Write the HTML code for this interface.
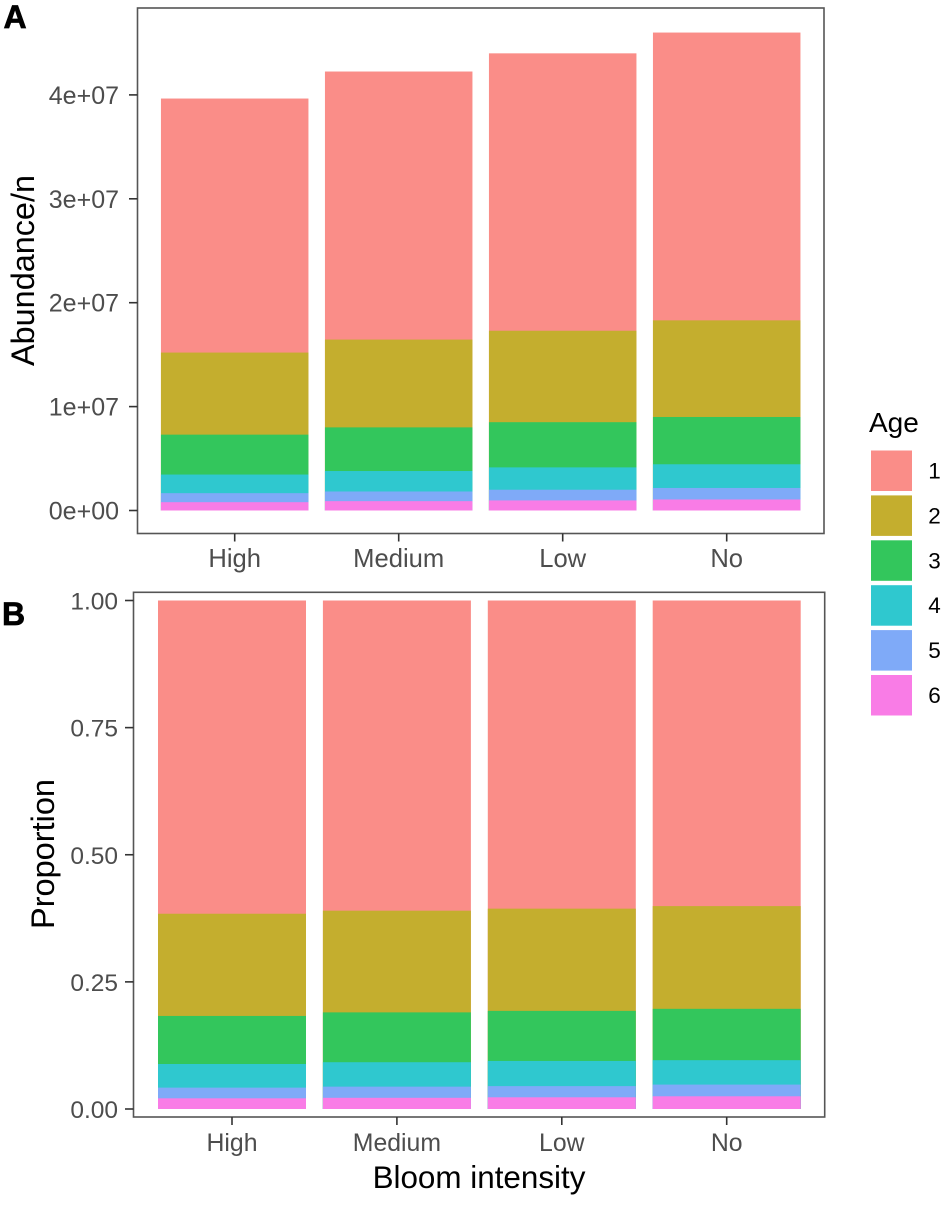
<!DOCTYPE html>
<html lang="en">
<head>
<meta charset="utf-8">
<title>Abundance and proportion by bloom intensity and age</title>
<style>
html,body{margin:0;padding:0;background:#fff;}
svg{display:block;font-family:"Liberation Sans",Arial,sans-serif;}
</style>
</head>
<body>
<svg id="chart" xmlns="http://www.w3.org/2000/svg" width="950" height="1205" viewBox="0 0 950 1205">
<rect width="950" height="1205" fill="#fff"/>
</svg>
<script>
const categories = ['High', 'Medium', 'Low', 'No'];
const ages = ['1', '2', '3', '4', '5', '6'];
const ageColors = ['#FA8D88', '#C4AE2E', '#33C65C', '#2FC8CF', '#7FAAF8', '#F97CE6'];

const abundanceAge1 = [2.445e7, 2.58e7, 2.67e7, 2.77e7];
const abundanceAge2 = [0.79e7, 0.845e7, 0.88e7, 0.93e7];
const abundanceAge3 = [0.384e7, 0.42e7, 0.435e7, 0.455e7];
const abundanceAge4 = [0.179e7, 0.197e7, 0.215e7, 0.228e7];
const abundanceAge5 = [0.087e7, 0.093e7, 0.103e7, 0.111e7];
const abundanceAge6 = [0.08e7, 0.09e7, 0.097e7, 0.106e7];

const proportionAge1 = [0.616, 0.61, 0.606, 0.601];
const proportionAge2 = [0.201, 0.2, 0.201, 0.202];
const proportionAge3 = [0.0945, 0.098, 0.0985, 0.101];
const proportionAge4 = [0.0465, 0.048, 0.0495, 0.048];
const proportionAge5 = [0.021, 0.022, 0.022, 0.023];
const proportionAge6 = [0.021, 0.022, 0.023, 0.025];

const abundanceTicks = [0, 1e7, 2e7, 3e7, 4e7];
const abundanceTickLabels = ['0e+00', '1e+07', '2e+07', '3e+07', '4e+07'];
const proportionTicks = [0, 0.25, 0.5, 0.75, 1];
const proportionTickLabels = ['0.00', '0.25', '0.50', '0.75', '1.00'];

const abundanceSeries = [abundanceAge1, abundanceAge2, abundanceAge3, abundanceAge4, abundanceAge5, abundanceAge6];
const proportionSeries = [proportionAge1, proportionAge2, proportionAge3, proportionAge4, proportionAge5, proportionAge6];

const svg = document.getElementById('chart');
const NS = 'http://www.w3.org/2000/svg';

function make(tag, attrs, text) {
  const el = document.createElementNS(NS, tag);
  for (const k in attrs) el.setAttribute(k, attrs[k]);
  if (text !== undefined) el.textContent = text;
  svg.appendChild(el);
  return el;
}

function drawPanel(p) {
  const yScale = v => p.y0 - v * p.yPerUnit;
  const xScale = i => p.x0 + i * p.band;

  // bars: each segment runs from its stacked top down to the baseline,
  // painted age 1 first, so neighbouring segments leave no seam
  categories.forEach((cat, c) => {
    for (let s = 0; s < p.series.length; s++) {
      let cum = 0;
      for (let k = s; k < p.series.length; k++) cum += p.series[k][c];
      const top = yScale(cum);
      const bar = make('rect', {
        x: xScale(c) - p.barWidth / 2,
        y: top,
        width: p.barWidth,
        height: yScale(0) - top,
        fill: ageColors[s]
      });
      
      
    }
  });

  // panel border
  const border = make('rect', {
    x: p.left, y: p.top, width: p.right - p.left, height: p.bottom - p.top,
    fill: 'none', stroke: '#555', 'stroke-width': 1.6
  });
  
  

  // y axis
  p.ticks.forEach((t, i) => {
    const y = yScale(t);
    const tick = make('line', {
      x1: p.left - 8.5, x2: p.left, y1: y, y2: y, stroke: '#333', 'stroke-width': 1.6
    });
    
    
    const label = make('text', {
      x: p.yLabelX, y: y + 9, 'text-anchor': 'end', 'font-size': p.tickFont, fill: '#4d4d4d'
    }, p.tickLabels[i]);
    
    
  });

  // x axis
  categories.forEach((cat, c) => {
    const x = xScale(c);
    const tick = make('line', {
      x1: x, x2: x, y1: p.bottom, y2: p.bottom + 8, stroke: '#333', 'stroke-width': 1.6
    });
    
    
    const label = make('text', {
      x: x, y: p.xLabelY, 'text-anchor': 'middle', 'font-size': p.xFont, fill: '#4d4d4d'
    }, cat);
    
    
  });

  // y axis title
  const title = make('text', {
    transform: 'translate(' + p.titleX + ',' + p.titleY + ') rotate(-90)',
    'text-anchor': 'middle', 'font-size': p.titleFont, fill: '#000'
  }, p.title);
  
  
}

drawPanel({
  key: 'abundance', series: abundanceSeries,
  left: 137.5, right: 824, top: 8, bottom: 533.5,
  x0: 234.7, band: 164, barWidth: 147.5,
  y0: 510.5, yPerUnit: 103.9 / 1e7,
  ticks: abundanceTicks, tickLabels: abundanceTickLabels,
  yLabelX: 119, tickFont: 25, xFont: 25.6, xLabelY: 567,
  title: 'Abundance/n', titleX: 34, titleY: 270.5, titleFont: 32.4
});

drawPanel({
  key: 'proportion', series: proportionSeries,
  left: 133.5, right: 824.7, top: 592.3, bottom: 1117,
  x0: 232, band: 164.9, barWidth: 148,
  y0: 1109, yPerUnit: 508.5,
  ticks: proportionTicks, tickLabels: proportionTickLabels,
  yLabelX: 118, tickFont: 24.5, xFont: 24.8, xLabelY: 1151,
  title: 'Proportion', titleX: 54, titleY: 854, titleFont: 32.5
});

// legend
const legendTitle = make('text', { x: 869, y: 432, 'font-size': 28, fill: '#000' }, 'Age');


ages.forEach((a, i) => {
  const top = 450.5 + i * 44.9;
  const key = make('rect', { x: 871, y: top, width: 41, height: 40.5, fill: ageColors[i] });
  
  
  const label = make('text', {
    x: 934.5, y: top + 28, 'text-anchor': 'middle', 'font-size': 22.5, fill: '#000'
  }, a);
  
  
});

// shared x axis title and panel letters
const xTitle = make('text', {
  x: 479, y: 1188, 'text-anchor': 'middle', 'font-size': 31.4, fill: '#000'
}, 'Bloom intensity');



const letterA = make('text', {
  x: 3.5, y: 28, 'font-size': 32, 'font-weight': 'bold', fill: '#000', stroke: '#000', 'stroke-width': 0.7
}, 'A');



const letterB = make('text', {
  x: 2, y: 625, 'font-size': 32, 'font-weight': 'bold', fill: '#000', stroke: '#000', 'stroke-width': 0.7
}, 'B');


</script>
</body>
</html>
